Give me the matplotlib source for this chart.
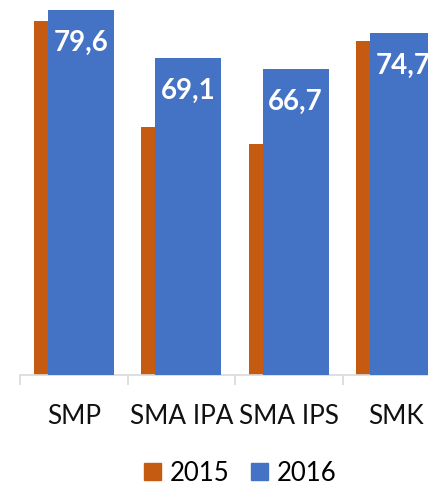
import matplotlib
matplotlib.use("Agg")
import matplotlib.pyplot as plt
import matplotlib.patches as mpatches
import numpy as np

categories = ["SMP", "SMA IPA", "SMA IPS", "SMK"]
vals_2015 = [77.2, 54.1, 50.4, 72.9]
vals_2016 = [79.6, 69.1, 66.7, 74.7]
labels_2016 = ["79,6", "69,1", "66,7", "74,7"]

c2015 = "#C55A11"
c2016 = "#4472C4"

plt.rcParams["font.family"] = ["Lato", "DejaVu Sans"]

W, H = 428, 498
fig = plt.figure(figsize=(W / 100, H / 100), dpi=100)
# plot area runs past the right edge, like the cropped original
ax = fig.add_axes([20 / W, (H - 375) / H, 430 / W, 375 / H])

x = np.arange(len(categories))
bw = 0.615
off = 0.065
ax.bar(x - off, vals_2015, bw, color=c2015, zorder=2)
bars = ax.bar(x + off, vals_2016, bw, color=c2016, zorder=3)

for b, lab in zip(bars, labels_2016):
    ax.annotate(lab, (b.get_x() + b.get_width() / 2, b.get_height()),
                xytext=(0, -33), textcoords="offset pixels",
                ha="center", va="center", color="white",
                fontsize=20, fontweight="bold", zorder=4)

ax.set_xlim(-0.5, 3.5)
ax.set_ylim(0, 81.8)
for s in ["top", "right", "left"]:
    ax.spines[s].set_visible(False)
ax.spines["bottom"].set_color("#d9d9d9")
ax.spines["bottom"].set_linewidth(1.2)
ax.set_yticks([])

ax.set_xticks(x)
ax.set_xticklabels(categories, fontsize=18.8, color="#111111")
ax.tick_params(axis="x", which="major", length=0, pad=21)
ax.set_xticks(np.arange(-0.5, 4, 1), minor=True)
ax.tick_params(axis="x", which="minor", length=7, width=1.2, color="#d9d9d9")

handles = [mpatches.Patch(color=c2015, label="2015"),
           mpatches.Patch(color=c2016, label="2016")]
fig.legend(handles=handles, loc="center", ncol=2,
           bbox_to_anchor=(240 / W, 1 - 473 / H), frameon=False,
           fontsize=18.5, handlelength=0.68, handleheight=0.68,
           handletextpad=0.32, columnspacing=0.85)

fig.savefig("out.png", dpi=100)
